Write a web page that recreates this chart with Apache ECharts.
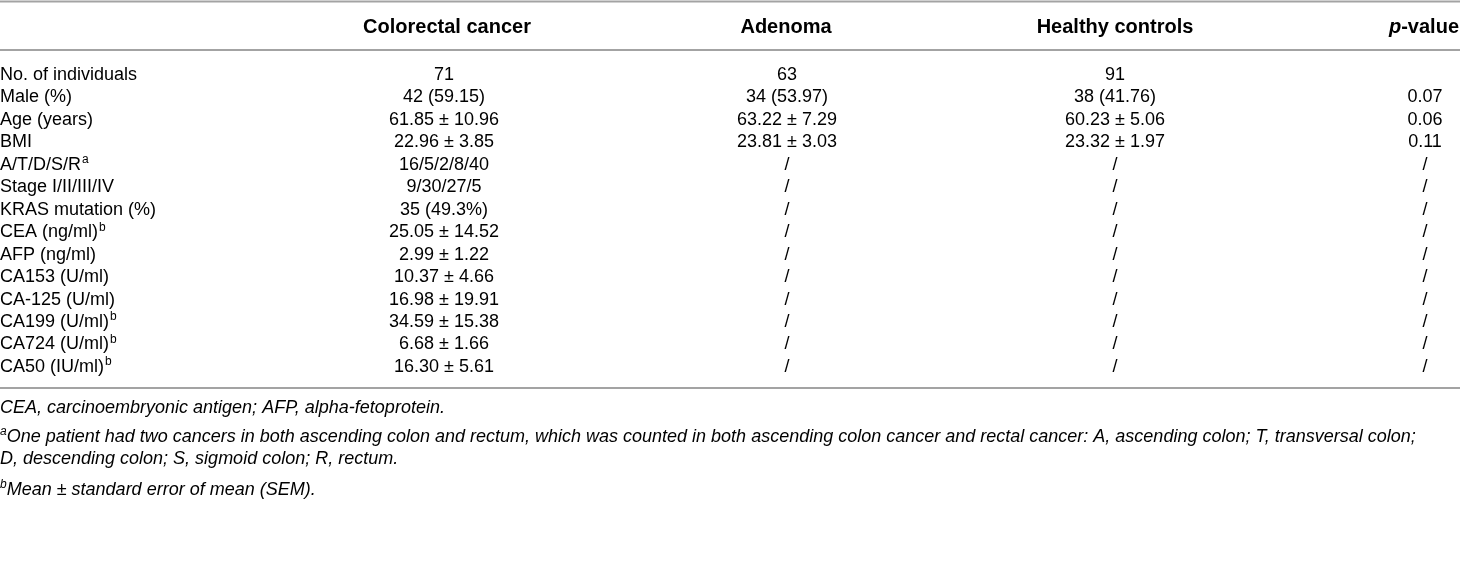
<!DOCTYPE html>
<html>
<head>
<meta charset="utf-8">
<script src="https://cdn.jsdelivr.net/npm/echarts@6/dist/echarts.min.js"></script>
<style>
  html, body { margin: 0; padding: 0; background: #fff; }
  #table { width: 1460px; height: 566px; }
</style>
</head>
<body>
<div id="table"></div>
<script>
// table content
const columns = ['', 'Colorectal cancer', 'Adenoma', 'Healthy controls', 'p-value'];
const rowLabels = ['No. of individuals', 'Male (%)', 'Age (years)', 'BMI', 'A/T/D/S/R', 'Stage I/II/III/IV',
    'KRAS mutation (%)', 'CEA (ng/ml)', 'AFP (ng/ml)', 'CA153 (U/ml)', 'CA-125 (U/ml)', 'CA199 (U/ml)',
    'CA724 (U/ml)', 'CA50 (IU/ml)'];
const rowNotes = ['', '', '', '', 'a', '', '', 'b', '', '', '', 'b', 'b', 'b'];
const colorectal = ['71', '42 (59.15)', '61.85 ± 10.96', '22.96 ± 3.85', '16/5/2/8/40', '9/30/27/5', '35 (49.3%)',
    '25.05 ± 14.52', '2.99 ± 1.22', '10.37 ± 4.66', '16.98 ± 19.91', '34.59 ± 15.38', '6.68 ± 1.66', '16.30 ± 5.61'];
const adenoma = ['63', '34 (53.97)', '63.22 ± 7.29', '23.81 ± 3.03', '/', '/', '/', '/', '/', '/', '/', '/', '/', '/'];
const healthy = ['91', '38 (41.76)', '60.23 ± 5.06', '23.32 ± 1.97', '/', '/', '/', '/', '/', '/', '/', '/', '/', '/'];
const pValues = ['', '0.07', '0.06', '0.11', '/', '/', '/', '/', '/', '/', '/', '/', '/', '/'];
const footnotes = [
    ['', 'CEA, carcinoembryonic antigen; AFP, alpha-fetoprotein.'],
    ['a', 'One patient had two cancers in both ascending colon and rectum, which was counted in both ascending colon cancer and rectal cancer: A, ascending colon; T, transversal colon;'],
    ['', 'D, descending colon; S, sigmoid colon; R, rectum.'],
    ['b', 'Mean ± standard error of mean (SEM).']
];

// layout
const W = 1460;
const colX = [0, 444, 787, 1115, 1425];
const headX = [0, 447, 786, 1115, 1424];
const colAlign = ['left', 'center', 'center', 'center', 'center'];
const font = "'Liberation Sans', Arial, Helvetica, sans-serif";
const ink = '#262626';
const rule = '#a3a3a3';

const cells = [];
rowLabels.forEach(function (label, r) {
    const row = [label, colorectal[r], adenoma[r], healthy[r], pValues[r]];
    for (let c = 0; c < row.length; c++) {
        if (row[c] !== '') cells.push([c, r, row[c]]);
    }
});

const richText = {
    t: { fontFamily: font, fontSize: 18, color: ink, lineHeight: 22 },
    sup: { fontFamily: font, fontSize: 12, color: ink, lineHeight: 22, verticalAlign: 'top', padding: [0, 0, 8, 1] }
};

function renderCell(params, api) {
    const c = api.value(0);
    const r = api.value(1);
    const cell = cells[params.dataIndex];
    const pt = api.coord([colX[c], r]);
    let text = '{t|' + cell[2] + '}';
    if (c === 0 && rowNotes[r]) text += '{sup|' + rowNotes[r] + '}';
    return {
        type: 'text',
        x: pt[0],
        y: pt[1],
        style: {
            text: text,
            rich: richText,
            align: colAlign[c],
            verticalAlign: 'middle'
        }
    };
}

const graphics = [];
// horizontal rules
[1.5, 50, 388].forEach(function (y) {
    graphics.push({
        type: 'line',
        shape: { x1: 0, y1: y, x2: W, y2: y },
        style: { stroke: rule, lineWidth: 1.8 }
    });
});
// column headers
columns.forEach(function (name, c) {
    if (!name) return;
    let text = '{h|' + name + '}';
    if (name === 'p-value') text = '{hi|p}{h|-value}';
    graphics.push({
        type: 'text',
        x: headX[c],
        y: 27,
        style: {
            text: text,
            align: colAlign[c],
            verticalAlign: 'middle',
            rich: {
                h: { fontFamily: font, fontSize: 20, fontWeight: 'bold', color: ink },
                hi: { fontFamily: font, fontSize: 20, fontWeight: 'bold', fontStyle: 'italic', color: ink }
            }
        }
    });
});
// footnotes
const noteY = [408, 437, 459, 490];
footnotes.forEach(function (f, i) {
    let text = (f[0] ? '{sup|' + f[0] + '}' : '') + '{n|' + f[1] + '}';
    graphics.push({
        type: 'text',
        x: 0,
        y: noteY[i],
        style: {
            text: text,
            align: 'left',
            verticalAlign: 'middle',
            rich: {
                n: { fontFamily: font, fontSize: 18, fontStyle: 'italic', color: ink, lineHeight: 22 },
                sup: { fontFamily: font, fontSize: 12, fontStyle: 'italic', color: ink, lineHeight: 22, verticalAlign: 'top', padding: [0, 0, 8, 0] }
            }
        }
    });
});

const chart = echarts.init(document.getElementById('table'));
chart.setOption({
    animation: false,
    backgroundColor: '#fff',
    grid: { left: 0, right: 0, top: 63.8, height: 314.4 },
    xAxis: { type: 'value', min: 0, max: W, show: false },
    yAxis: { type: 'category', data: rowLabels, inverse: true, show: false },
    graphic: graphics,
    series: [{
        type: 'custom',
        renderItem: renderCell,
        data: cells.map(function (d) { return [d[0], d[1]]; }),
        silent: true
    }]
});
</script>
</body>
</html>
